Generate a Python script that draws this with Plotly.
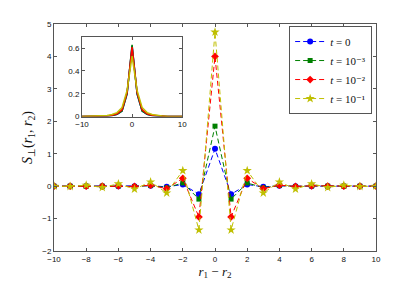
import plotly.graph_objects as go

x = [-10, -9, -8, -7, -6, -5, -4, -3, -2, -1, 0, 1, 2, 3, 4, 5, 6, 7, 8, 9, 10]

s_t0 = [0, 0, 0, 0, 0, 0, 0.01, -0.02, 0.05, -0.25, 1.15, -0.25, 0.05, -0.02, 0.01, 0, 0, 0, 0, 0, 0]
s_t3 = [0, 0, 0, 0, 0.01, -0.01, 0.02, -0.05, 0.1, -0.4, 1.85, -0.4, 0.1, -0.05, 0.02, -0.01, 0.01, 0, 0, 0, 0]
s_t2 = [0, 0, 0, 0, 0.01, -0.01, 0.03, -0.08, 0.24, -0.95, 4.0, -0.95, 0.24, -0.08, 0.03, -0.01, 0.01, 0, 0, 0, 0]
s_t1 = [0, -0.01, 0.03, -0.04, 0.07, -0.09, 0.13, -0.21, 0.48, -1.35, 4.75, -1.35, 0.48, -0.21, 0.13, -0.09, 0.07, -0.04, 0.03, -0.01, 0]

p_t0 = [0, 0, 0, 0, 0, 0.004, 0.01, 0.02, 0.05, 0.2, 0.62, 0.2, 0.05, 0.02, 0.01, 0.004, 0, 0, 0, 0, 0]
p_t3 = [0, 0, 0, 0, 0, 0.005, 0.01, 0.02, 0.05, 0.2, 0.63, 0.2, 0.05, 0.02, 0.01, 0.005, 0, 0, 0, 0, 0]
p_t2 = [0, 0, 0, 0, 0.003, 0.006, 0.012, 0.025, 0.06, 0.21, 0.61, 0.21, 0.06, 0.025, 0.012, 0.006, 0.003, 0, 0, 0, 0]
p_t1 = [0, 0.001, 0.002, 0.003, 0.005, 0.01, 0.018, 0.035, 0.08, 0.23, 0.53, 0.23, 0.08, 0.035, 0.018, 0.01, 0.005, 0.003, 0.002, 0.001, 0]

names = ["<i>t</i> = 0", "<i>t</i> = 10⁻³", "<i>t</i> = 10⁻²", "<i>t</i> = 10⁻¹"]
colors = ["#0000ff", "#008000", "#ff0000", "#bfbf00"]
symbols = ["circle", "square", "diamond", "star"]
sizes = [6, 5, 6, 7]
main_series = [s_t0, s_t3, s_t2, s_t1]
inset_series = [p_t0, p_t3, p_t2, p_t1]

fig = go.Figure()
for name, c, sym, sz, ys in zip(names, colors, symbols, sizes, main_series):
    fig.add_trace(go.Scatter(
        x=x, y=ys, name=name, mode="lines+markers",
        line=dict(color=c, width=1, dash="5px,3px"),
        marker=dict(color=c, symbol=sym, size=sz, line=dict(width=0)),
        xaxis="x", yaxis="y"))
for c, ys in zip(colors, inset_series):
    fig.add_trace(go.Scatter(
        x=x, y=ys, mode="lines", showlegend=False,
        line=dict(color=c, width=1.5),
        xaxis="x2", yaxis="y2"))

tickfont = dict(family="Liberation Sans, Arial, sans-serif", size=8, color="#111")
axcommon = dict(showline=True, linecolor="#555", linewidth=1, mirror="ticks",
                ticks="inside", ticklen=3, tickcolor="#555", showgrid=False,
                zeroline=False, tickfont=tickfont)

# page body adds an 8px offset; size the figure so the plot area lands where the reference has it
fig.update_layout(
    width=407, height=277,
    margin=dict(l=46, r=39, t=14, b=32),
    paper_bgcolor="white", plot_bgcolor="white",
    xaxis=dict(range=[-10, 10], tickvals=list(range(-10, 11, 2)),
               domain=[0, 1],
               title=dict(text="<i>r</i><sub>1</sub> − <i>r</i><sub>2</sub>",
                          font=dict(family="Liberation Serif, serif", size=13, color="#111"),
                          standoff=0),
               **axcommon),
    yaxis=dict(range=[-2, 5], tickvals=list(range(-2, 6)),
               domain=[0, 1],
               title=dict(text="<i>S</i><sub>⊥</sub>(<i>r</i><sub>1</sub>, <i>r</i><sub>2</sub>)",
                          font=dict(family="Liberation Serif, serif", size=14, color="#111"),
                          standoff=6),
               **axcommon),
    xaxis2=dict(range=[-10, 10], tickvals=[-10, 0, 10], domain=[0.087, 0.398],
                anchor="y2", **axcommon),
    yaxis2=dict(range=[0, 0.7], tickvals=[0, 0.2, 0.4, 0.6], domain=[0.592, 0.944],
                anchor="x2", **axcommon),
    legend=dict(x=0.988, y=0.991, xanchor="right", yanchor="top",
                bgcolor="white", bordercolor="#555", borderwidth=1,
                font=dict(family="Liberation Serif, DejaVu Serif, serif", size=11, color="#111"),
                tracegroupgap=0, itemwidth=30),
    showlegend=True,
)

fig.write_html("out.html")
